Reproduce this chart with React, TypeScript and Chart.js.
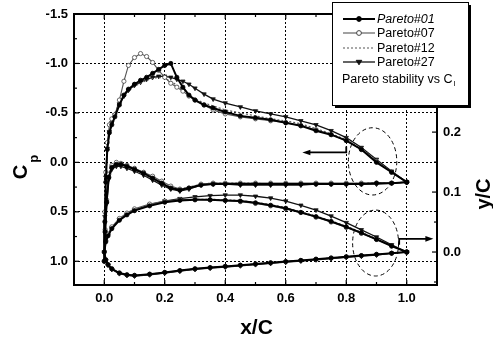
import { useEffect, useRef } from "react";
import { Chart, registerables } from "chart.js";
Chart.register(...registerables);

// ---------- data ----------
const seriesNames = ["Pareto#01", "Pareto#07", "Pareto#12", "Pareto#27"];

// suction-side Cp (leading edge -> trailing edge)
const suctionX = [0, 0.002, 0.005, 0.01, 0.017, 0.025, 0.035, 0.05, 0.065, 0.08, 0.1, 0.12, 0.14, 0.16, 0.18, 0.2, 0.22, 0.24, 0.26, 0.28, 0.3, 0.33, 0.36, 0.4, 0.45, 0.5, 0.55, 0.6, 0.65, 0.7, 0.75, 0.8, 0.85, 0.9, 0.95, 1.0];
const cpSuction01 = [1.0, 0.6, 0.2, -0.13, -0.3, -0.38, -0.46, -0.58, -0.68, -0.74, -0.79, -0.83, -0.86, -0.9, -0.94, -0.98, -1.0, -0.86, -0.76, -0.68, -0.63, -0.58, -0.55, -0.51, -0.47, -0.45, -0.43, -0.4, -0.37, -0.32, -0.28, -0.22, -0.13, 0.0, 0.1, 0.2];
const cpSuction07 = [1.0, 0.5, 0.1, -0.2, -0.38, -0.44, -0.48, -0.63, -0.82, -0.98, -1.06, -1.1, -1.07, -1.01, -0.93, -0.86, -0.8, -0.76, -0.72, -0.67, -0.63, -0.58, -0.53, -0.49, -0.46, -0.44, -0.42, -0.4, -0.37, -0.33, -0.28, -0.22, -0.13, -0.01, 0.1, 0.2];
const cpSuction12 = [1.0, 0.55, 0.15, -0.15, -0.32, -0.42, -0.5, -0.6, -0.67, -0.72, -0.77, -0.8, -0.83, -0.85, -0.86, -0.85, -0.82, -0.78, -0.73, -0.68, -0.64, -0.6, -0.57, -0.53, -0.5, -0.47, -0.44, -0.42, -0.39, -0.34, -0.29, -0.23, -0.14, -0.02, 0.1, 0.2];
const cpSuction27 = [1.0, 0.55, 0.15, -0.14, -0.31, -0.4, -0.48, -0.59, -0.67, -0.73, -0.78, -0.81, -0.84, -0.86, -0.87, -0.87, -0.86, -0.84, -0.82, -0.79, -0.75, -0.69, -0.64, -0.6, -0.56, -0.52, -0.49, -0.46, -0.42, -0.38, -0.32, -0.25, -0.15, -0.03, 0.09, 0.2];

// pressure-side Cp (leading edge -> trailing edge)
const pressureX = [0, 0.003, 0.008, 0.015, 0.025, 0.04, 0.055, 0.075, 0.1, 0.13, 0.16, 0.19, 0.22, 0.25, 0.28, 0.32, 0.36, 0.4, 0.45, 0.5, 0.55, 0.6, 0.65, 0.7, 0.75, 0.8, 0.85, 0.9, 0.95, 1.0];
const cpPressure01 = [1.0, 0.7, 0.4, 0.15, 0.05, 0.02, 0.02, 0.04, 0.07, 0.11, 0.16, 0.21, 0.26, 0.28, 0.26, 0.23, 0.22, 0.22, 0.22, 0.22, 0.22, 0.22, 0.22, 0.22, 0.22, 0.22, 0.22, 0.21, 0.21, 0.2];
const cpPressure07 = [1.0, 0.68, 0.38, 0.12, 0.03, 0.0, 0.01, 0.03, 0.06, 0.1, 0.14, 0.19, 0.24, 0.27, 0.26, 0.22, 0.21, 0.21, 0.21, 0.21, 0.21, 0.21, 0.21, 0.21, 0.21, 0.21, 0.21, 0.21, 0.21, 0.2];
const cpPressure12 = [1.0, 0.7, 0.4, 0.14, 0.05, 0.02, 0.03, 0.05, 0.08, 0.12, 0.17, 0.22, 0.26, 0.27, 0.25, 0.22, 0.21, 0.21, 0.21, 0.21, 0.22, 0.22, 0.22, 0.22, 0.22, 0.22, 0.21, 0.21, 0.21, 0.2];
const cpPressure27 = [1.0, 0.72, 0.42, 0.17, 0.07, 0.04, 0.04, 0.06, 0.09, 0.13, 0.18, 0.23, 0.27, 0.29, 0.27, 0.23, 0.22, 0.22, 0.23, 0.23, 0.23, 0.23, 0.23, 0.22, 0.22, 0.22, 0.22, 0.22, 0.21, 0.2];

// airfoil shape y/C
const foilX = [0, 0.005, 0.0125, 0.025, 0.05, 0.075, 0.1, 0.15, 0.2, 0.25, 0.3, 0.35, 0.4, 0.45, 0.5, 0.55, 0.6, 0.65, 0.7, 0.75, 0.8, 0.85, 0.9, 0.95, 1.0];
const foilUpper01 = [0, 0.017, 0.027, 0.039, 0.053, 0.062, 0.069, 0.077, 0.083, 0.086, 0.087, 0.087, 0.086, 0.085, 0.082, 0.078, 0.073, 0.066, 0.059, 0.051, 0.042, 0.032, 0.021, 0.01, 0];
const foilUpper07 = [0, 0.019, 0.03, 0.042, 0.056, 0.065, 0.072, 0.08, 0.085, 0.087, 0.088, 0.087, 0.086, 0.084, 0.081, 0.077, 0.072, 0.066, 0.058, 0.05, 0.041, 0.031, 0.021, 0.01, 0];
const foilUpper12 = [0, 0.018, 0.028, 0.04, 0.054, 0.063, 0.07, 0.078, 0.084, 0.087, 0.088, 0.088, 0.087, 0.086, 0.083, 0.079, 0.074, 0.067, 0.06, 0.052, 0.043, 0.033, 0.022, 0.011, 0];
const foilUpper27 = [0, 0.018, 0.028, 0.04, 0.054, 0.063, 0.07, 0.079, 0.085, 0.089, 0.092, 0.094, 0.095, 0.095, 0.093, 0.09, 0.085, 0.078, 0.07, 0.06, 0.049, 0.037, 0.025, 0.012, 0];
const foilLower01 = [0, -0.013, -0.021, -0.028, -0.035, -0.038, -0.039, -0.037, -0.034, -0.031, -0.028, -0.026, -0.024, -0.022, -0.02, -0.018, -0.016, -0.014, -0.012, -0.01, -0.008, -0.006, -0.004, -0.002, 0];
const foilLower27 = [0, -0.014, -0.022, -0.029, -0.036, -0.039, -0.04, -0.038, -0.035, -0.032, -0.029, -0.027, -0.025, -0.023, -0.021, -0.019, -0.017, -0.015, -0.013, -0.011, -0.009, -0.007, -0.005, -0.002, 0];

// axis ticks
const xTicks = [0, 0.2, 0.4, 0.6, 0.8, 1.0];
const xMinorTicks = [-0.1, 0.1, 0.3, 0.5, 0.7, 0.9, 1.1];
const cpTicks = [-1.5, -1.0, -0.5, 0, 0.5, 1.0];
const cpMinorTicks = [-1.25, -0.75, -0.25, 0.25, 0.75];
const ycTicks = [0, 0.1, 0.2];
const ycMinorTicks = [-0.05, 0.05, 0.15];

// annotations (data units)
const ellipseCp = { x: 0.887, y: -0.01, rx: 0.08, ry: 0.34 };
const ellipseYc = { x: 0.897, y: 0.015, rx: 0.076, ry: 0.055 };
const arrowCp = { x0: 0.8, x1: 0.655, y: -0.1, yTick: -0.16 };
const arrowYc = { x0: 0.975, x1: 1.088, y: 0.022, yTick: 0.012 };

const cpSuction = [cpSuction01, cpSuction07, cpSuction12, cpSuction27];
const cpPressure = [cpPressure01, cpPressure07, cpPressure12, cpPressure27];
const foilUpper = [foilUpper01, foilUpper07, foilUpper12, foilUpper27];
const foilLower = [foilLower01, foilLower01, foilLower01, foilLower27];

// ---------- styles ----------
type St = { color: string; width: number; dash: number[]; point: string | false; fill: string; radius: number; rot: number };
const styles: St[] = [
  { color: "#000", width: 2, dash: [], point: "circle", fill: "#000", radius: 2.1, rot: 0 },
  { color: "#555", width: 1.1, dash: [], point: "circle", fill: "#fff", radius: 2.1, rot: 0 },
  { color: "#555", width: 1.2, dash: [2, 2], point: false, fill: "#555", radius: 0, rot: 0 },
  { color: "#111", width: 1.3, dash: [], point: "triangle", fill: "#111", radius: 2.5, rot: 180 },
];

const FONT = "'Liberation Sans', Arial, Helvetica, sans-serif";

function loop(xa: number[], ya: number[], xb: number[], yb: number[]) {
  const a = xa.map((x, i) => ({ x, y: ya[i] })).reverse();
  const b = xb.map((x, i) => ({ x, y: yb[i] })).slice(1);
  return [...a, ...b];
}

function drawMarker(ctx: CanvasRenderingContext2D, s: St, x: number, y: number) {
  if (!s.point) return;
  ctx.save();
  ctx.setLineDash([]);
  ctx.lineWidth = 1;
  ctx.strokeStyle = s.point === "circle" && s.fill === "#fff" ? "#444" : s.color;
  ctx.fillStyle = s.fill;
  ctx.beginPath();
  const r = s.radius + 0.3;
  if (s.point === "circle") ctx.arc(x, y, r, 0, Math.PI * 2);
  else {
    ctx.moveTo(x - r, y - r * 0.6);
    ctx.lineTo(x + r, y - r * 0.6);
    ctx.lineTo(x, y + r);
    ctx.closePath();
  }
  ctx.fill();
  ctx.stroke();
  ctx.restore();
}

const overlay = {
  id: "overlay",
  afterDraw(chart: any) {
    const { ctx, chartArea } = chart;
    const { left, right, top, bottom } = chartArea;
    const sx = chart.scales.x, sy = chart.scales.y, sy2 = chart.scales.y2;
    ctx.save();
    ctx.strokeStyle = "#000";
    ctx.fillStyle = "#000";
    ctx.setLineDash([]);
    // ticks
    ctx.lineWidth = 1.2;
    const tick = (x1: number, y1: number, x2: number, y2: number) => {
      ctx.beginPath(); ctx.moveTo(x1, y1); ctx.lineTo(x2, y2); ctx.stroke();
    };
    xTicks.forEach((v) => { const p = sx.getPixelForValue(v); tick(p, bottom, p, bottom - 5); tick(p, top, p, top + 5); });
    xMinorTicks.forEach((v) => { const p = sx.getPixelForValue(v); tick(p, bottom, p, bottom - 3); tick(p, top, p, top + 3); });
    cpTicks.forEach((v) => { const p = sy.getPixelForValue(v); tick(left, p, left + 5, p); });
    cpMinorTicks.forEach((v) => { const p = sy.getPixelForValue(v); tick(left, p, left + 3, p); });
    ycTicks.forEach((v) => { const p = sy2.getPixelForValue(v); tick(right, p, right - 5, p); });
    ycMinorTicks.forEach((v) => { const p = sy2.getPixelForValue(v); tick(right, p, right - 3, p); });
    // frame
    ctx.lineWidth = 2;
    ctx.strokeRect(left, top, right - left, bottom - top);

    // ellipses
    ctx.lineWidth = 1;
    ctx.setLineDash([4, 3]);
    [[ellipseCp, sy], [ellipseYc, sy2]].forEach(([e, ys]: any) => {
      const cx = sx.getPixelForValue(e.x), cy = ys.getPixelForValue(e.y);
      const rx = Math.abs(sx.getPixelForValue(e.x + e.rx) - cx);
      const ry = Math.abs(ys.getPixelForValue(e.y + e.ry) - cy);
      ctx.beginPath(); ctx.ellipse(cx, cy, rx, ry, 0, 0, Math.PI * 2); ctx.stroke();
    });
    ctx.setLineDash([]);
    // arrows
    const arrow = (a: any, ys: any) => {
      const x0 = sx.getPixelForValue(a.x0), x1 = sx.getPixelForValue(a.x1);
      const y = ys.getPixelForValue(a.y), yt = ys.getPixelForValue(a.yTick);
      const dir = Math.sign(x1 - x0);
      ctx.lineWidth = 1.8;
      ctx.beginPath(); ctx.moveTo(x0, yt); ctx.lineTo(x0, y); ctx.lineTo(x1 - dir * 6, y); ctx.stroke();
      ctx.beginPath(); ctx.moveTo(x1, y); ctx.lineTo(x1 - dir * 8, y - 2.8); ctx.lineTo(x1 - dir * 8, y + 2.8); ctx.closePath(); ctx.fill();
    };
    arrow(arrowCp, sy);
    arrow(arrowYc, sy2);

    // axis titles
    ctx.textAlign = "center";
    ctx.textBaseline = "middle";
    ctx.font = `bold 21px ${FONT}`;
    ctx.fillText("x/C", (left + right) / 2 + 1, 328);
    ctx.save();
    ctx.translate(484, 194);
    ctx.rotate(-Math.PI / 2);
    ctx.font = `bold 20px ${FONT}`;
    ctx.fillText("y/C", 0, 0);
    ctx.restore();
    ctx.save();
    ctx.translate(21, 168);
    ctx.rotate(-Math.PI / 2);
    ctx.font = `bold 20px ${FONT}`;
    const cw = ctx.measureText("C").width;
    ctx.textAlign = "left";
    ctx.fillText("C", -cw / 2 - 4, 0);
    ctx.font = `bold 13px ${FONT}`;
    ctx.fillText("p", cw / 2 - 2, 13);
    ctx.restore();

    // legend
    const bx = 332, by = 2, bw = 136, bh = 103;
    ctx.fillStyle = "#000";
    ctx.fillRect(bx + 3, by + 3, bw, bh);
    ctx.fillStyle = "#fff";
    ctx.fillRect(bx, by, bw, bh);
    ctx.lineWidth = 1;
    ctx.strokeStyle = "#000";
    ctx.strokeRect(bx + 0.5, by + 0.5, bw, bh);
    const rows = [19, 33, 48, 62];
    seriesNames.forEach((name, i) => {
      const s = styles[i];
      const y = rows[i];
      ctx.save();
      ctx.strokeStyle = s.color;
      ctx.lineWidth = s.width;
      ctx.setLineDash(s.dash);
      ctx.beginPath(); ctx.moveTo(343, y); ctx.lineTo(375, y); ctx.stroke();
      ctx.restore();
      drawMarker(ctx, s, 359, y);
      ctx.fillStyle = "#000";
      ctx.textAlign = "left";
      ctx.textBaseline = "middle";
      ctx.font = `${i === 0 ? "italic " : ""}12.5px ${FONT}`;
      ctx.fillText(name, 377, y + 1);
    });
    ctx.font = `12.5px ${FONT}`;
    ctx.textAlign = "left";
    ctx.textBaseline = "middle";
    const t = "Pareto stability vs C";
    ctx.fillText(t, 342, 80);
    const tw = ctx.measureText(t).width;
    ctx.font = `8px ${FONT}`;
    ctx.fillText("l", 342 + tw + 1, 84);
    ctx.restore();
  },
};

export default function App() {
  const ref = useRef<HTMLCanvasElement | null>(null);
  useEffect(() => {
    document.body.style.margin = "0";
    Chart.defaults.font.family = FONT;
    Chart.defaults.color = "#000";
    const datasets: any[] = [];
    seriesNames.forEach((name, i) => {
      const s = styles[i];
      const common = {
        label: name,
        showLine: true,
        borderColor: s.color,
        borderWidth: s.width,
        borderDash: s.dash,
        tension: 0,
        pointRadius: s.radius,
        pointStyle: s.point || "circle",
        rotation: s.rot,
        pointBackgroundColor: s.fill,
        pointBorderColor: s.fill === "#fff" ? "#444" : s.color,
        pointBorderWidth: 0.8,
        fill: false,
      };
      datasets.push({ ...common, data: loop(suctionX, cpSuction[i], pressureX, cpPressure[i]), yAxisID: "y" });
      datasets.push({ ...common, data: loop(foilX, foilUpper[i], foilX, foilLower[i]), yAxisID: "y2" });
    });
    const chart = new Chart(ref.current as HTMLCanvasElement, {
      type: "scatter",
      data: { datasets },
      options: {
        animation: false,
        responsive: false,
        devicePixelRatio: 1,
        layout: { padding: { top: 14, left: 0, right: 0, bottom: 0 } },
        plugins: { legend: { display: false }, tooltip: { enabled: false }, title: { display: false } },
        scales: {
          x: {
            type: "linear",
            min: -0.1,
            max: 1.1,
            afterBuildTicks: (sc: any) => { sc.ticks = xTicks.map((v) => ({ value: v })); },
            afterFit: (sc: any) => { sc.height = 58; },
            grid: { color: "#000", lineWidth: 1, drawTicks: false },
            border: { display: false, dash: [2, 2] },
            ticks: { padding: 6, font: { size: 13, weight: "bold" }, color: "#000", callback: (v: any) => Number(v).toFixed(1), maxRotation: 0 },
          },
          y: {
            type: "linear",
            position: "left",
            reverse: true,
            min: -1.5,
            max: 1.24,
            afterBuildTicks: (sc: any) => { sc.ticks = cpTicks.map((v) => ({ value: v })); },
            afterFit: (sc: any) => { sc.width = 74; },
            grid: { color: "#000", lineWidth: 1, drawTicks: false },
            border: { display: false, dash: [2, 2] },
            ticks: { padding: 6, font: { size: 13, weight: "bold" }, color: "#000", callback: (v: any) => Number(v).toFixed(1) },
          },
          y2: {
            type: "linear",
            position: "right",
            min: -0.055,
            max: 0.397,
            afterBuildTicks: (sc: any) => { sc.ticks = ycTicks.map((v) => ({ value: v })); },
            afterFit: (sc: any) => { sc.width = 56; },
            grid: { display: false, drawTicks: false },
            border: { display: false },
            ticks: { padding: 6, font: { size: 13, weight: "bold" }, color: "#000", callback: (v: any) => Number(v).toFixed(1) },
          },
        },
      } as any,
      plugins: [overlay],
    });
    return () => chart.destroy();
  }, []);
  return (
    <div style={{ width: 493, height: 343, background: "#fff" }}>
      <canvas ref={ref} width={493} height={343} style={{ display: "block" }} />
    </div>
  );
}
